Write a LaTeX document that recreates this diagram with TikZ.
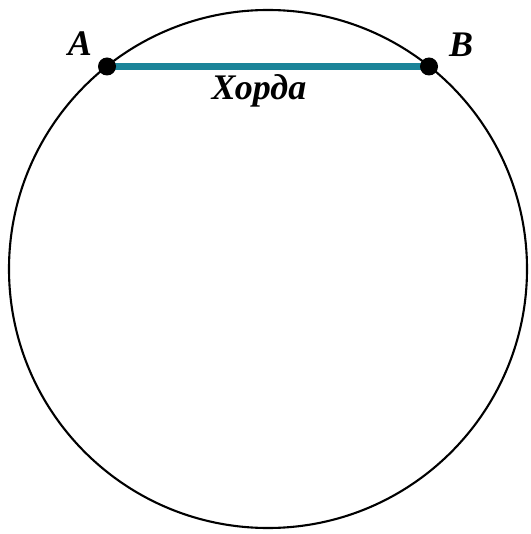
\documentclass[tikz,border=0pt]{standalone}
\usepackage{fontspec}
\setmainfont{Liberation Serif}
\definecolor{chordteal}{HTML}{1B8499}
\begin{document}
\begin{tikzpicture}[x=1pt,y=-1pt,
  lbl/.style={font=\fontsize{36}{40}\selectfont\bfseries\itshape, inner sep=0pt},
  pt/.style={circle, fill=black, inner sep=0pt, minimum size=18pt}]
\useasboundingbox (0,0) rectangle (530,534);
\coordinate (O) at (268,269);
\draw[line width=2.1pt] (O) circle[radius=259];
\coordinate (A) at (107,66.5);
\coordinate (B) at (429,66.5);
\draw[chordteal, line width=6.5pt] (A) -- (B);
\node[pt] (dA) at (A) {};
\node[pt] (dB) at (B) {};
\node[lbl] (la) at (80,44) {A};
\node[lbl] (lb) at (461,45) {B};
\node[lbl, anchor=base] (ch) at (259,100) {Хорда};
\end{tikzpicture}
\end{document}
